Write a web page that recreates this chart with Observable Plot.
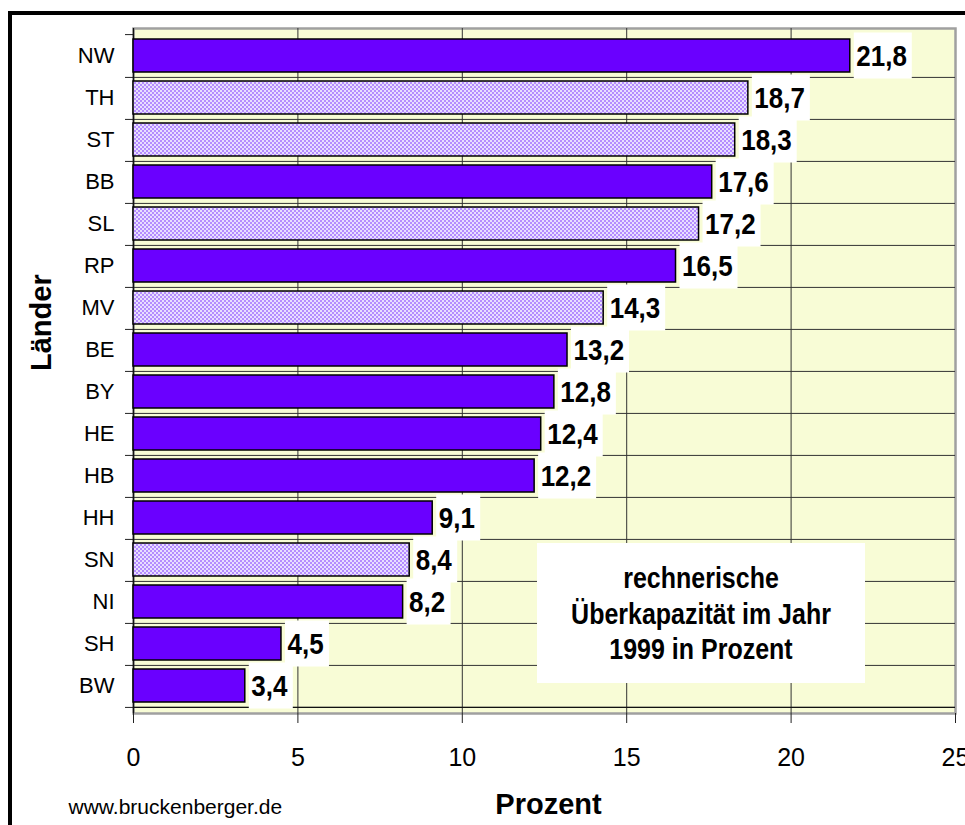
<!DOCTYPE html>
<html>
<head>
<meta charset="utf-8">
<script src="https://cdn.jsdelivr.net/npm/d3@7"></script>
<script src="https://cdn.jsdelivr.net/npm/@observablehq/plot@0.6"></script>
<style>
html,body{margin:0;padding:0;background:#fff;overflow:hidden;}
#wrap{position:relative;width:965px;height:825px;font-family:"Liberation Sans",Arial,sans-serif;}
#chart{position:absolute;left:0;top:0;}
#border{position:absolute;left:8px;top:11px;width:1000px;height:900px;border:4px solid #000;pointer-events:none;}
#note{position:absolute;left:537px;top:543px;width:328px;height:140px;background:#fff;display:flex;align-items:center;justify-content:center;text-align:center;font-weight:bold;font-size:25px;line-height:30px;color:#000;}
#note div{transform:scaleY(1.17);transform-origin:center;}
</style>
</head>
<body>
<svg width="0" height="0" style="position:absolute">
  <defs>
    <pattern id="lavender" patternUnits="userSpaceOnUse" width="4" height="4">
      <rect width="4" height="4" fill="#E8DEFF"/>
      <rect width="2" height="2" fill="#B48CFF"/>
      <rect x="2" y="2" width="2" height="2" fill="#B48CFF"/>
    </pattern>
  </defs>
</svg>
<div id="wrap">
  <div id="chart"></div>
  <div id="note"><div id="noteText"></div></div>
  <div id="border"></div>
</div>
<script>
// ---- data ----
const lands = ["NW","TH","ST","BB","SL","RP","MV","BE","BY","HE","HB","HH","SN","NI","SH","BW"];
const values = [21.8,18.7,18.3,17.6,17.2,16.5,14.3,13.2,12.8,12.4,12.2,9.1,8.4,8.2,4.5,3.4];
const valueLabels = ["21,8","18,7","18,3","17,6","17,2","16,5","14,3","13,2","12,8","12,4","12,2","9,1","8,4","8,2","4,5","3,4"];
const hatchedLands = ["TH","ST","SL","MV","SN"];
const xTicks = [0,5,10,15,20,25];
const yTitle = "Länder";
const xTitle = "Prozent";
const sourceText = "www.bruckenberger.de";
const noteLines = ["rechnerische","Überkapazität im Jahr","1999 in Prozent"];

// ---- build ----
const data = lands.map((land, i) => ({land, value: values[i], label: valueLabels[i], hatched: hatchedLands.includes(land)}));

const W = 965, H = 825, mL = 133, mR = 10, mT = 28, mB = 112;
const step = (H - mT - mB) / lands.length;
const boxPadY = -6.5;

document.getElementById("noteText").innerHTML = noteLines.join("<br>");

const chart = Plot.plot({
  width: W,
  height: H,
  marginLeft: mL,
  marginRight: mR,
  marginTop: mT,
  marginBottom: mB,
  style: {fontFamily: "'Liberation Sans', Arial, sans-serif", background: "transparent", color: "#000", overflow: "visible"},
  x: {domain: [xTicks[0], xTicks[xTicks.length - 1]], label: null},
  y: {domain: lands, paddingInner: 0.22, paddingOuter: 0.11, label: null},
  marks: [
    Plot.frame({fill: "#F8FCD6", stroke: "#A0A0A0", strokeWidth: 2.5}),
    // grid
    Plot.ruleX(xTicks.slice(1, -1), {stroke: "#333", strokeWidth: 1}),
    Plot.ruleY(lands, {y: d => d, dy: step / 2, stroke: "#333", strokeWidth: 1}),
    // y-axis ticks at band boundaries
    Plot.ruleY(lands, {y: d => d, dy: step / 2, x1: 0, x2: 0, insetLeft: -8, stroke: "#222", strokeWidth: 1}),
    Plot.ruleY([lands[0]], {y: d => d, dy: -step / 2, x1: 0, x2: 0, insetLeft: -8, stroke: "#222", strokeWidth: 1}),
    // axis lines
    Plot.ruleX([0], {stroke: "#111", strokeWidth: 1.3}),
    Plot.ruleY([lands[lands.length - 1]], {y: d => d, dy: step / 2, stroke: "#111", strokeWidth: 1.3}),
    // white label boxes
    Plot.barX(data.filter(d => d.label.length >= 4), {x1: "value", x2: "value", y: "land", fill: "white", insetLeft: 4, insetRight: -62, insetTop: boxPadY, insetBottom: boxPadY}),
    Plot.barX(data.filter(d => d.label.length < 4), {x1: "value", x2: "value", y: "land", fill: "white", insetLeft: 4, insetRight: -48, insetTop: boxPadY, insetBottom: boxPadY}),
    // bars
    Plot.barX(data.filter(d => !d.hatched), {x: "value", y: "land", fill: "#6A00FF", stroke: "#000", strokeWidth: 1.5}),
    Plot.barX(data.filter(d => d.hatched), {x: "value", y: "land", fill: "url(#lavender)", stroke: "#000", strokeWidth: 1.5}),
    // value labels
    Plot.text(data, {x: "value", y: "land", text: "label", textAnchor: "start", dx: 6, fontSize: 26, fontWeight: "bold", fill: "#000"}),
    // axes
    Plot.axisX({ticks: xTicks, tickSize: 10, tickPadding: 25, fontSize: 25, label: null, stroke: "#222"}),
    Plot.axisY({tickSize: 0, tickPadding: 19, fontSize: 22, label: null}),
    // titles
    Plot.text([xTitle], {text: d => d, frameAnchor: "bottom", dx: 4, dy: 100, lineAnchor: "bottom", fontSize: 29, fontWeight: "bold", fill: "#000"}),
    Plot.text([yTitle], {text: d => d, frameAnchor: "left", dx: -92, rotate: -90, fontSize: 29, fontWeight: "bold", fill: "#000"}),
    Plot.text([sourceText], {text: d => d, frameAnchor: "bottom-left", dx: -65, dy: 100, textAnchor: "start", lineAnchor: "bottom", fontSize: 21, fill: "#000"})
  ]
});
document.getElementById("chart").appendChild(chart);

// the original uses vertically stretched bold lettering for the value labels
const stretch = (el, s) => {
  const tr = el.getAttribute("transform");
  if (tr && /translate/.test(tr)) {
    el.setAttribute("transform", tr + ` scale(1,${s})`);
  } else if (el.hasAttribute("x") || el.hasAttribute("y")) {
    const x = +el.getAttribute("x") || 0, y = +el.getAttribute("y") || 0;
    el.removeAttribute("x"); el.removeAttribute("y");
    el.setAttribute("transform", `${tr ? tr + " " : ""}translate(${x},${y}) scale(1,${s})`);
  }
};
const textGroups = chart.querySelectorAll('g[aria-label="text"]');
if (textGroups.length) textGroups[0].querySelectorAll("text").forEach(t => stretch(t, 1.17));
</script>
</body>
</html>
